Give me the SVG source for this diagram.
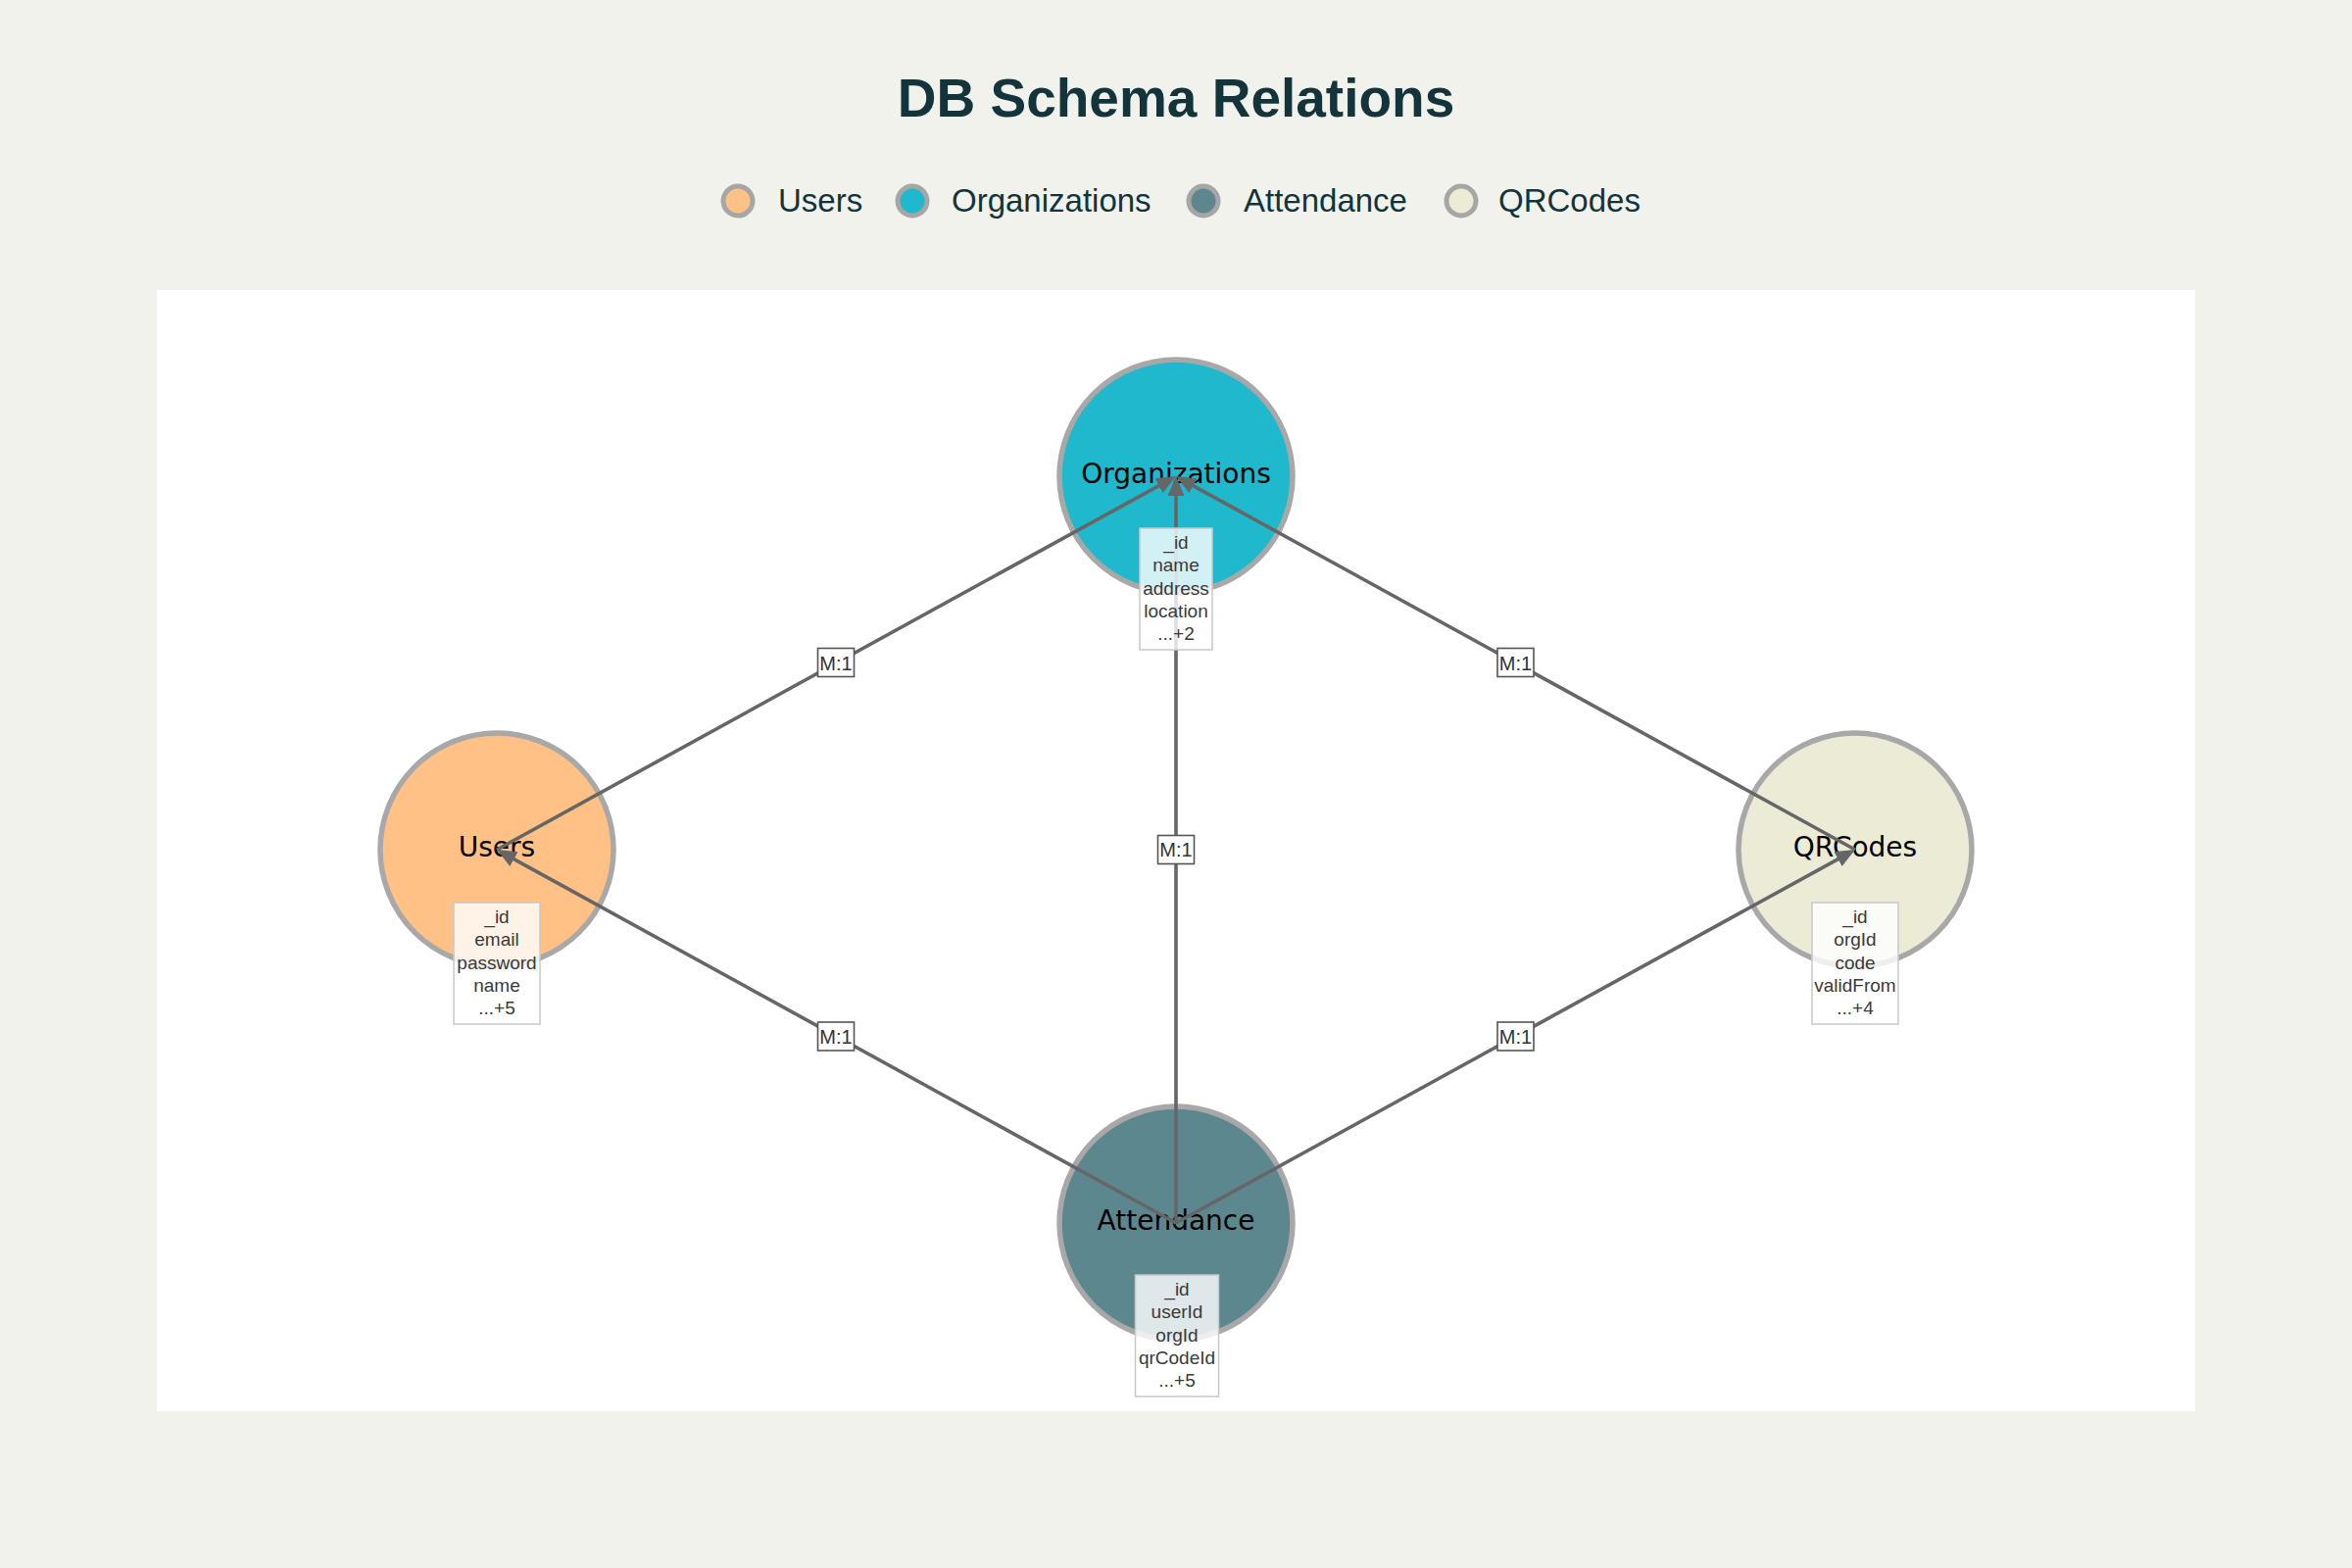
<svg xmlns="http://www.w3.org/2000/svg" width="2400" height="1600" viewBox="0 0 2400 1600">
  <style>
    .title { font-family: "Liberation Sans", Arial, sans-serif; font-weight: bold; font-size: 55px; fill: #13343b; }
    .legend-text { font-family: "Liberation Sans", Arial, sans-serif; font-size: 33px; fill: #13343b; }
    .legend-dot { stroke: #a6a6a6; stroke-width: 5; }
    .node-circle { stroke: #a8a8a8; stroke-width: 5.5; }
    .node-label { font-family: "DejaVu Sans", sans-serif; font-size: 28px; fill: #000; text-anchor: middle; }
    .field-box { fill: #ffffff; fill-opacity: 0.8; stroke: #c8c8c8; stroke-width: 1.5; }
    .field-text { font-family: "Liberation Sans", Arial, sans-serif; font-size: 19px; fill: #3a3a3a; text-anchor: middle; }
    .edge { stroke: #666666; stroke-width: 3.6; fill: none; }
    .edge-label-box { fill: #ffffff; stroke: #555555; stroke-width: 1.6; }
    .edge-label { font-family: "Liberation Sans", Arial, sans-serif; font-size: 20px; fill: #333333; text-anchor: middle; }
  </style>
  <defs>
    <marker id="arrow" markerUnits="userSpaceOnUse" markerWidth="22" markerHeight="18" viewBox="0 0 22 18" refX="9" refY="8.5" orient="auto">
      <path d="M0,0 L20,8.5 L0,17 Z" fill="#666666"/>
    </marker>
  </defs>

  <!-- page and plot area -->
  <rect x="0" y="0" width="2400" height="1600" fill="#f2f2ec"/>
  <rect x="160" y="296" width="2080" height="1144" fill="#ffffff"/>

  <!-- title -->
  <text class="title" x="1200" y="119" text-anchor="middle">DB Schema Relations</text>

  <!-- legend -->
  <g id="legend">
    <circle class="legend-dot" cx="753" cy="205" r="15" fill="#FFC185"/>
    <text class="legend-text" x="794" y="216">Users</text>
    <circle class="legend-dot" cx="931" cy="205" r="15" fill="#1FB8CD"/>
    <text class="legend-text" x="971" y="216">Organizations</text>
    <circle class="legend-dot" cx="1228" cy="205" r="15" fill="#5D878F"/>
    <text class="legend-text" x="1269" y="216">Attendance</text>
    <circle class="legend-dot" cx="1491" cy="205" r="15" fill="#ECEBD5"/>
    <text class="legend-text" x="1529" y="216">QRCodes</text>
  </g>

  <!-- entity circles and names -->
  <g id="node-organizations-circle">
    <circle class="node-circle" cx="1200" cy="486" r="119" fill="#1FB8CD"/>
    <text class="node-label" x="1200" y="493">Organizations</text>
  </g>
  <g id="node-users-circle">
    <circle class="node-circle" cx="507" cy="867" r="119" fill="#FFC185"/>
    <text class="node-label" x="507" y="874">Users</text>
  </g>
  <g id="node-qrcodes-circle">
    <circle class="node-circle" cx="1893" cy="867" r="119" fill="#ECEBD5"/>
    <text class="node-label" x="1893" y="874">QRCodes</text>
  </g>
  <g id="node-attendance-circle">
    <circle class="node-circle" cx="1200" cy="1248" r="119" fill="#5D878F"/>
    <text class="node-label" x="1200" y="1255">Attendance</text>
  </g>

  <!-- relations -->
  <g id="connectors">
    <path class="edge" d="M507,867 L1190.36,491.3" marker-end="url(#arrow)"/>
    <path class="edge" d="M1893,867 L1209.64,491.3" marker-end="url(#arrow)"/>
    <path class="edge" d="M1200,1248 L1200,497" marker-end="url(#arrow)"/>
    <path class="edge" d="M1200,1248 L516.64,872.3" marker-end="url(#arrow)"/>
    <path class="edge" d="M1200,1248 L1883.36,872.3" marker-end="url(#arrow)"/>
  </g>

  <!-- field lists -->
  <g id="fields-organizations">
    <rect class="field-box" x="1163" y="539" width="74" height="124"/>
    <text class="field-text" x="1200" y="560">_id</text>
    <text class="field-text" x="1200" y="583.3">name</text>
    <text class="field-text" x="1200" y="606.5">address</text>
    <text class="field-text" x="1200" y="629.7">location</text>
    <text class="field-text" x="1200" y="653">...+2</text>
  </g>
  <g id="fields-users">
    <rect class="field-box" x="463" y="921" width="88" height="124"/>
    <text class="field-text" x="507" y="942">_id</text>
    <text class="field-text" x="507" y="965.3">email</text>
    <text class="field-text" x="507" y="988.5">password</text>
    <text class="field-text" x="507" y="1011.7">name</text>
    <text class="field-text" x="507" y="1035">...+5</text>
  </g>
  <g id="fields-qrcodes">
    <rect class="field-box" x="1849" y="921" width="88" height="124"/>
    <text class="field-text" x="1893" y="942">_id</text>
    <text class="field-text" x="1893" y="965.3">orgId</text>
    <text class="field-text" x="1893" y="988.5">code</text>
    <text class="field-text" x="1893" y="1011.7">validFrom</text>
    <text class="field-text" x="1893" y="1035">...+4</text>
  </g>
  <g id="fields-attendance">
    <rect class="field-box" x="1158.5" y="1301" width="85" height="124"/>
    <text class="field-text" x="1201" y="1322">_id</text>
    <text class="field-text" x="1201" y="1345.3">userId</text>
    <text class="field-text" x="1201" y="1368.5">orgId</text>
    <text class="field-text" x="1201" y="1391.7">qrCodeId</text>
    <text class="field-text" x="1201" y="1415">...+5</text>
  </g>

  <!-- cardinality labels -->
  <g id="edge-labels">
    <rect class="edge-label-box" x="834.5" y="661.5" width="37" height="29"/>
    <text class="edge-label" x="853" y="683.5">M:1</text>
    <rect class="edge-label-box" x="1528" y="661.5" width="37" height="29"/>
    <text class="edge-label" x="1546.5" y="683.5">M:1</text>
    <rect class="edge-label-box" x="1181.5" y="852.5" width="37" height="29"/>
    <text class="edge-label" x="1200" y="874">M:1</text>
    <rect class="edge-label-box" x="834.5" y="1043" width="37" height="29"/>
    <text class="edge-label" x="853" y="1065">M:1</text>
    <rect class="edge-label-box" x="1528" y="1043" width="37" height="29"/>
    <text class="edge-label" x="1546.5" y="1065">M:1</text>
  </g>
</svg>
